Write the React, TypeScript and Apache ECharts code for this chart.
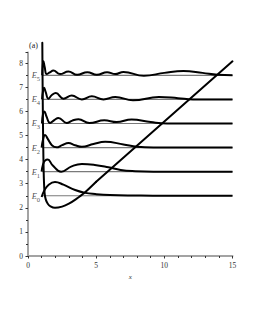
import React, { useEffect, useRef } from "react";
import * as echarts from "echarts";

const levels = [2.5, 3.5, 4.5, 5.5, 6.5, 7.5];
const levelNames = ["0", "1", "2", "3", "4", "5"];
const levelFromX = 1.05;
const levelToX = 15;
const labelX = 0.96;

const potentialWall: [number, number][] = [
  [1.05, 8.85], [1.07, 7.2], [1.1, 5.4], [1.13, 4.1], [1.17, 3.1], [1.22, 2.6],
  [1.3, 2.35], [1.45, 2.17], [1.65, 2.06], [1.98, 2.0], [2.5, 2.05], [3.0, 2.17],
  [3.5, 2.35], [4.1, 2.6], [5.0, 3.08],
];
const potentialRamp: [number, number][] = [
  [5.0, 3.08], [10.0, 5.58], [15.0, 8.08],
];

const psi0: [number, number][] = [
  [1.0, 2.45], [1.2, 2.72], [1.5, 2.95], [1.98, 3.07], [2.6, 2.96], [3.46, 2.74],
  [4.2, 2.62], [4.93, 2.57], [6.0, 2.53], [7.9, 2.51], [10, 2.5], [15, 2.5],
];
const psi1: [number, number][] = [
  [1.0, 3.5], [1.1, 3.8], [1.25, 3.96], [1.45, 4.0], [1.8, 3.77], [2.43, 3.5],
  [3.2, 3.72], [3.95, 3.82], [4.9, 3.78], [5.9, 3.68], [6.8, 3.57], [7.87, 3.52],
  [9.2, 3.5], [15, 3.5],
];
const psi2: [number, number][] = [
  [1.0, 4.5], [1.12, 4.88], [1.25, 5.02], [1.45, 4.86], [1.75, 4.6], [2.1, 4.51],
  [2.5, 4.6], [2.97, 4.69], [3.45, 4.6], [3.95, 4.53], [4.8, 4.65], [5.66, 4.74],
  [7.0, 4.63], [8.0, 4.53], [9.2, 4.5], [15, 4.5],
];
const psi3: [number, number][] = [
  [1.02, 5.5], [1.1, 5.9], [1.2, 6.0], [1.35, 5.8], [1.62, 5.52], [1.95, 5.65],
  [2.23, 5.73], [2.84, 5.52], [3.25, 5.62], [3.7, 5.68], [4.5, 5.52], [5.6, 5.63],
  [6.5, 5.56], [7.6, 5.67], [9.0, 5.56], [10.2, 5.5], [15, 5.5],
];
const psi4: [number, number][] = [
  [1.03, 6.5], [1.1, 6.85], [1.18, 6.98], [1.3, 6.8], [1.49, 6.53], [1.75, 6.68],
  [2.04, 6.76], [2.6, 6.53], [3.21, 6.66], [3.95, 6.5], [4.68, 6.63], [5.54, 6.5],
  [6.4, 6.6], [7.7, 6.46], [9.6, 6.6], [11.0, 6.55], [12.1, 6.5], [15, 6.5],
];
const psi5: [number, number][] = [
  [1.04, 7.5], [1.08, 7.9], [1.13, 8.08], [1.22, 7.85], [1.37, 7.55], [1.6, 7.62],
  [1.86, 7.7], [2.35, 7.55], [2.96, 7.66], [3.6, 7.52], [4.35, 7.63], [5.05, 7.52],
  [5.8, 7.63], [6.4, 7.55], [7.0, 7.64], [8.5, 7.48], [10.0, 7.6], [11.4, 7.68],
  [12.8, 7.6], [13.9, 7.52], [15, 7.5],
];
const waves = [psi0, psi1, psi2, psi3, psi4, psi5];

const xMin = 0, xMax = 15, xInterval = 5;
const yMin = 0, yMax = 8.45, yInterval = 1;

export default function App() {
  const ref = useRef<HTMLDivElement>(null);
  useEffect(() => {
    if (!ref.current) return;
    const chart = echarts.init(ref.current, null, { renderer: "svg" });
    const serif = "Liberation Serif, DejaVu Serif, serif";
    const series: any[] = [];
    levels.forEach((L) => {
      series.push({
        type: "line",
        data: [[levelFromX, L], [levelToX, L]],
        symbol: "none",
        lineStyle: { color: "#7a7a7a", width: 1.2 },
        silent: true,
        z: 2,
      });
    });
    waves.forEach((w) => {
      series.push({
        type: "line",
        data: w,
        symbol: "none",
        smooth: 0.45,
        lineStyle: { color: "#000", width: 2 },
        clip: false,
        z: 3,
      });
    });
    series.push({
      type: "line",
      data: potentialWall,
      symbol: "none",
      smooth: 0.3,
      lineStyle: { color: "#000", width: 2, cap: "round" },
      clip: false,
      z: 4,
    });
    series.push({
      type: "line",
      data: potentialRamp,
      symbol: "none",
      lineStyle: { color: "#000", width: 2, cap: "round" },
      clip: false,
      z: 4,
    });
    series.push({
      type: "scatter",
      data: levels.map((L) => [labelX, L]),
      symbolSize: 0,
      clip: false,
      label: {
        show: true,
        position: "left",
        distance: 1,
        formatter: (p: any) => `{e|E}{s|${levelNames[p.dataIndex]}}`,
        rich: {
          e: { fontFamily: serif, fontStyle: "italic", fontSize: 8.5, color: "#222" },
          s: { fontFamily: serif, fontSize: 6.5, color: "#222", padding: [7, 0, 0, 0] },
        },
      },
      z: 5,
    });
    chart.setOption({
      animation: false,
      title: {
        text: "(a)",
        left: 29,
        top: 41,
        textStyle: { fontFamily: serif, fontSize: 8, fontWeight: "normal", color: "#222" },
        padding: 0,
      },
      grid: { left: 28, right: 22.5, top: 52.4, bottom: 74, containLabel: false },
      xAxis: {
        type: "value",
        min: xMin,
        max: xMax,
        interval: xInterval,
        name: "x",
        nameLocation: "middle",
        nameGap: 15,
        nameTextStyle: { fontFamily: serif, fontStyle: "italic", fontSize: 7, color: "#333" },
        axisLine: { show: true, onZero: false, lineStyle: { color: "#a3a3a3", width: 2 } },
        axisTick: { show: true, length: 2.5, lineStyle: { color: "#333", width: 1 } },
        minorTick: { show: true, splitNumber: 5, length: 2, lineStyle: { color: "#333", width: 1 } },
        axisLabel: { fontFamily: serif, fontSize: 7.5, color: "#333", margin: 5 },
        splitLine: { show: false },
      },
      yAxis: {
        type: "value",
        min: yMin,
        max: yMax,
        interval: yInterval,
        axisLine: { show: true, onZero: false, lineStyle: { color: "#a3a3a3", width: 2 } },
        axisTick: { show: true, length: 2.5, lineStyle: { color: "#333", width: 1 } },
        minorTick: { show: true, splitNumber: 2, length: 2, lineStyle: { color: "#333", width: 1 } },
        axisLabel: { fontFamily: serif, fontSize: 7.5, color: "#333", margin: 5, showMaxLabel: false },
        splitLine: { show: false },
      },
      series,
    });
    return () => chart.dispose();
  }, []);
  return (
    <div
      ref={ref}
      style={{ position: "fixed", left: 0, top: 0, width: 255, height: 330, background: "#fff" }}
    />
  );
}
